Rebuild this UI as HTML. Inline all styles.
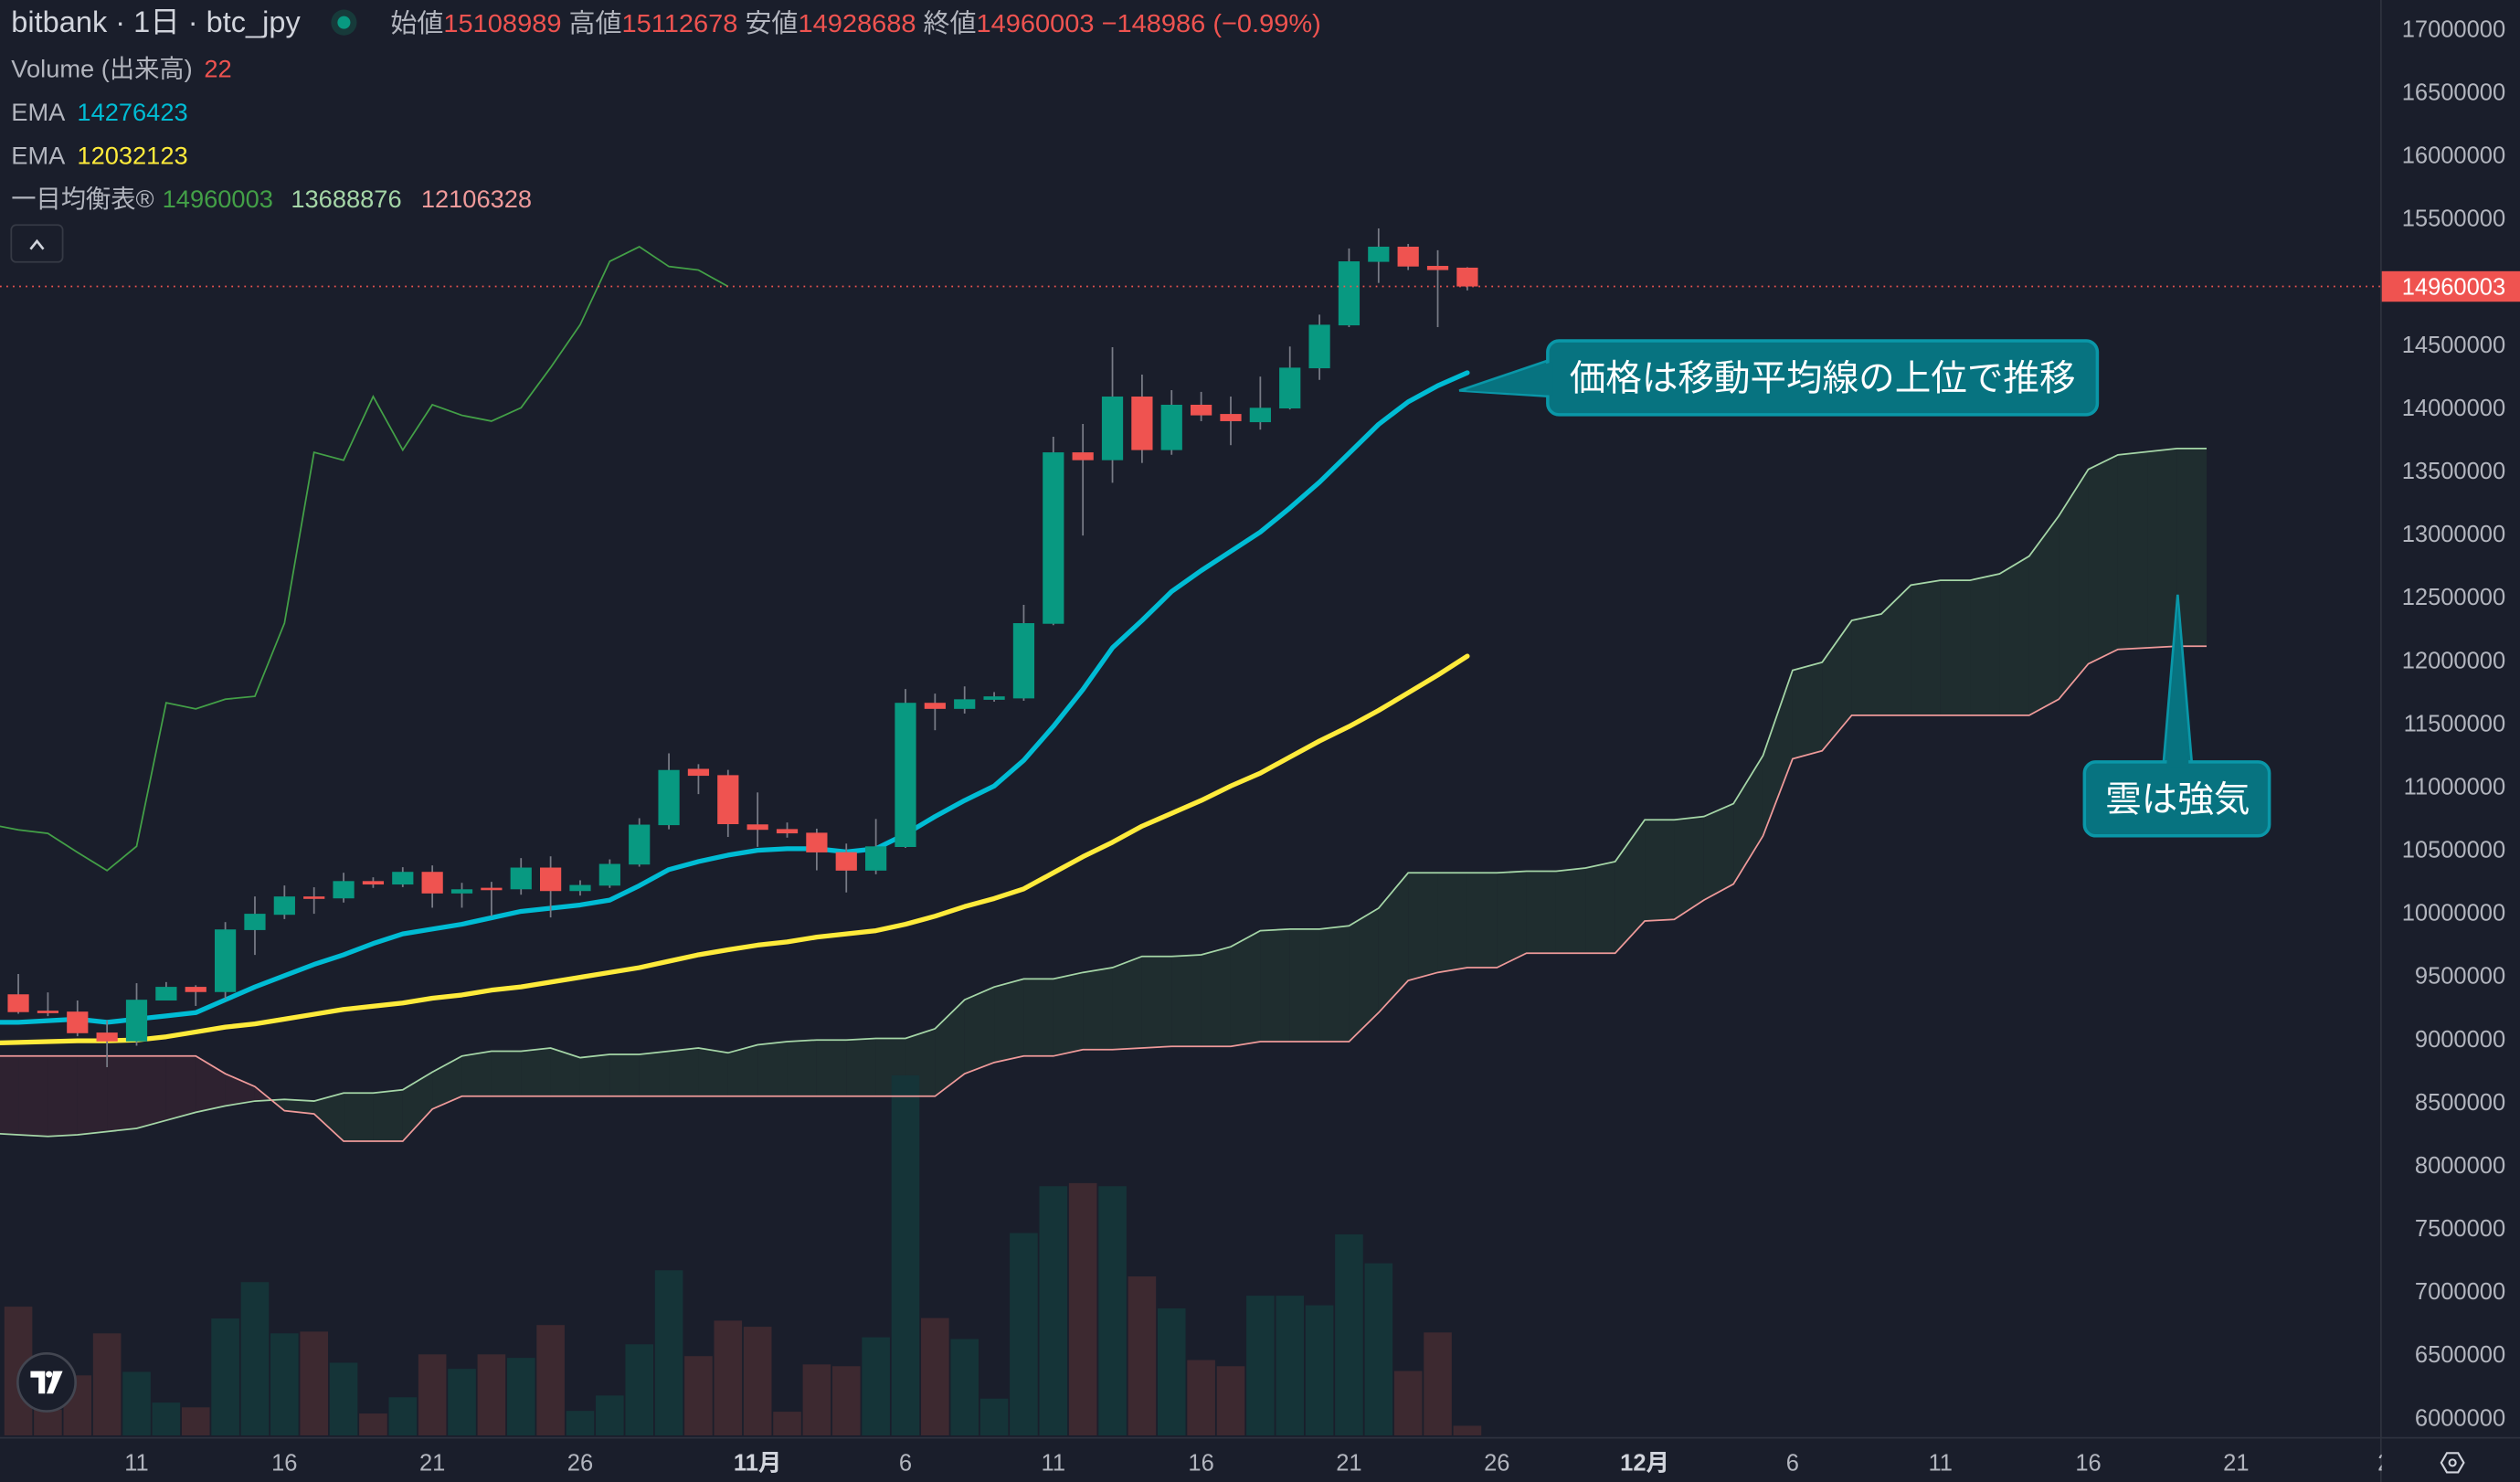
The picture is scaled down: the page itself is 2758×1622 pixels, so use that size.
<!DOCTYPE html>
<html><head><meta charset="utf-8">
<style>
html,body{margin:0;padding:0;background:#1a1e2b;overflow:hidden}
svg{display:block}
text{font-family:"Liberation Sans","Noto Sans CJK JP",sans-serif}
</style></head>
<body>
<svg id="chart" width="2758" height="1622" viewBox="0 0 1568 922" preserveAspectRatio="none" xmlns="http://www.w3.org/2000/svg">
<rect x="0" y="0" width="1568" height="922" fill="#1a1e2b"/>
<g id="cloud"></g>
<g id="vol"></g>
<g id="lines"></g>
<g id="candles"></g>
<g id="axes"></g>
<g id="header">
  <text x="7" y="20" font-size="18.5" fill="#d1d4dc">bitbank · 1日 · btc_jpy</text>
  <circle cx="214" cy="14" r="8" fill="#173a3a"/>
  <circle cx="214" cy="14" r="4" fill="#089981"/>
  <text x="243" y="20" font-size="16" fill="#b2b5be" textLength="579" lengthAdjust="spacingAndGlyphs">始値<tspan fill="#ef5350">15108989</tspan> 高値<tspan fill="#ef5350">15112678</tspan> 安値<tspan fill="#ef5350">14928688</tspan> 終値<tspan fill="#ef5350">14960003 −148986 (−0.99%)</tspan></text>
  <text x="7" y="48" font-size="15.5" fill="#b2b5be">Volume (出来高)</text>
  <text x="127" y="48" font-size="15.5" fill="#ef5350">22</text>
  <text x="7" y="75" font-size="15.5" fill="#b2b5be">EMA</text>
  <text x="48" y="75" font-size="15.5" fill="#00bcd4">14276423</text>
  <text x="7" y="102" font-size="15.5" fill="#b2b5be">EMA</text>
  <text x="48" y="102" font-size="15.5" fill="#ffeb3b">12032123</text>
  <text x="7" y="129" font-size="15.5" fill="#b2b5be">一目均衡表®</text>
  <text x="101" y="129" font-size="15.5" fill="#43a047">14960003</text>
  <text x="181" y="129" font-size="15.5" fill="#a5d6a7">13688876</text>
  <text x="262" y="129" font-size="15.5" fill="#ef9a9a">12106328</text>
  <rect x="7" y="140" width="32" height="23" rx="3" fill="#1a1e2b" stroke="#363a45"/>
  <path d="M19 155 L23 150 L27 155" fill="none" stroke="#d1d4dc" stroke-width="1.5"/>
</g>
<g>
  <path d="M970 222 L908 243 L970 247 Z" fill="#077380" stroke="#0a97a8" stroke-width="1.5"/>
  <rect x="963" y="212" width="342" height="46" rx="7" fill="#077380" stroke="#0a97a8" stroke-width="2"/>
  <path d="M966 225 L912 243 L966 246 Z" fill="#077380"/>
  <text x="1134" y="243" font-size="22.5" fill="#ffffff" text-anchor="middle">価格は移動平均線の上位で推移</text>
</g>
<g>
  <path d="M1346 477 L1355 370 L1364 477 Z" fill="#077380" stroke="#0a97a8" stroke-width="1.5"/>
  <rect x="1297" y="474" width="115" height="46" rx="7" fill="#077380" stroke="#0a97a8" stroke-width="2"/>
  <path d="M1348 478 L1355 376 L1362 478 Z" fill="#077380"/>
  <text x="1355" y="505" font-size="22.5" fill="#ffffff" text-anchor="middle">雲は強気</text>
</g>
<g>
  <circle cx="29" cy="860" r="18" fill="#1a1e2b" stroke="#434651" stroke-width="1.5"/>
  <path d="M19 853 H28 V867 H24 V857 H19 Z M33 853 H39 L33 867 H29 L32 859 Z" fill="#ffffff"/>
  <circle cx="30.5" cy="855" r="2" fill="#ffffff"/>
</g>
</svg>
<script>
// ---- data (prices in thousands JPY); candles start d=-4 (Oct 7), lines start d=-5 ----
const firstDay = -4;
const lineStart = -5;
const opens  = [9353,9223,9216,9050,8980,9304,9412,9371,9862,9983,10128,10113,10250,10223,10323,10152,10197,10185,10357,10171,10214,10381,10693,11139,11089,10699,10662,10633,10479,10333,10520,11662,11614,11686,11697,12288,13646,13584,14088,13664,14023,13950,13885,13994,14312,14652,15155,15275,15123,15109];
const highs  = [9514,9368,9304,9146,9441,9450,9425,9925,10128,10215,10201,10316,10280,10360,10374,10236,10244,10432,10446,10256,10422,10748,11262,11176,11131,10952,10714,10665,10547,10742,11771,11735,11792,11747,12438,13770,13871,14479,14262,14139,14125,14088,14246,14484,14737,15261,15420,15297,15247,15113];
const lows   = [9199,9180,9021,8776,8946,9304,9261,9315,9665,9949,9991,10080,10196,10202,10039,10039,9972,10142,9962,10135,10196,10364,10660,10939,10600,10521,10594,10335,10160,10304,10513,11445,11577,11671,11678,12277,12987,13405,13562,13627,13893,13703,13826,13986,14220,14638,14988,15090,14638,14929];
const closes = [9212,9212,9045,8980,9310,9412,9371,9867,9991,10128,10113,10250,10223,10323,10152,10185,10185,10357,10171,10219,10386,10697,11130,11084,10701,10656,10628,10477,10333,10525,11662,11614,11690,11713,12293,13646,13584,14088,13664,14023,13939,13893,13999,14317,14657,15159,15275,15118,15090,14960];
const volumes = [294,59,137,233,145,75,64,267,350,233,237,166,50,87,185,152,185,177,252,56,91,208,377,181,262,248,54,162,158,224,822,268,220,84,462,569,576,569,363,290,172,158,319,319,297,459,393,147,235,22];
const emaFast = [9131,9131,9144,9157,9131,9157,9182,9208,9310,9412,9501,9590,9666,9755,9832,9870,9908,9959,10010,10036,10061,10099,10214,10341,10405,10456,10494,10507,10507,10481,10507,10621,10761,10889,11003,11207,11474,11767,12098,12315,12544,12709,12862,13015,13206,13409,13639,13868,14046,14173,14276];
const emaSlow = [8966,8972,8979,8985,8985,8991,9017,9055,9093,9119,9157,9195,9233,9259,9284,9323,9348,9386,9412,9450,9488,9526,9564,9615,9666,9705,9743,9768,9806,9832,9857,9908,9972,10048,10112,10188,10315,10443,10557,10685,10787,10889,11003,11105,11232,11360,11474,11602,11742,11881,12032];
const spanA = [8253,8240,8227,8240,8266,8291,8355,8418,8469,8508,8520,8508,8571,8571,8597,8737,8864,8902,8902,8928,8851,8877,8877,8902,8928,8889,8953,8979,8991,8991,9004,9004,9081,9310,9412,9475,9475,9526,9564,9654,9654,9666,9730,9857,9870,9870,9895,10035,10315,10315,10315,10315,10328,10328,10354,10405,10736,10736,10761,10863,11245,11920,11983,12314,12365,12595,12633,12633,12684,12824,13142,13511,13626,13651,13677,13677];
const spanB = [8864,8864,8864,8864,8864,8864,8864,8864,8724,8622,8431,8406,8189,8189,8189,8444,8546,8546,8546,8546,8546,8546,8546,8546,8546,8546,8546,8546,8546,8546,8546,8546,8546,8724,8813,8864,8864,8915,8915,8928,8941,8941,8941,8979,8979,8979,8979,9208,9462,9526,9564,9564,9679,9679,9679,9679,9934,9946,10099,10226,10608,11218,11282,11563,11563,11563,11563,11563,11563,11563,11691,11971,12085,12098,12111,12111];
const chikouShift = 25;
const priceTicks = [17000,16500,16000,15500,15000,14500,14000,13500,13000,12500,12000,11500,11000,10500,10000,9500,9000,8500,8000,7500,7000,6500,6000];
const dateTickDays = [0,5,10,15,21,26,31,36,41,46,51,56,61,66,71,76];
const dateTickLabels = ["11","16","21","26","11月","6","11","16","21","26","12月","6","11","16","21","2"];
const lastPrice = 14960.003;

// ---- scales ----
const NS = "http://www.w3.org/2000/svg";
function xs(d){ return 85 + 18.4*d; }
function ys(pk){ return 18 + (17000 - pk)/500*39.27; }
function vy(v){ return 893 - v/3.67; }
function mk(tag, attrs, parent){ const e=document.createElementNS(NS,tag); for(const k in attrs) e.setAttribute(k, attrs[k]); parent.appendChild(e); return e; }
const up="#089981", dn="#ef5350";

// ---- cloud ----
const cloud=document.getElementById('cloud');
for(let i=0;i<spanA.length-1;i++){
  const d0=lineStart+i, d1=d0+1;
  const a0=spanA[i], a1=spanA[i+1], b0=spanB[i], b1=spanB[i+1];
  const s0=a0-b0, s1=a1-b1;
  if(s0*s1<0){
    const t=s0/(s0-s1); const dm=d0+t; const pm=a0+(a1-a0)*t;
    const p1=mk('polygon',{points:`${xs(d0)},${ys(a0)} ${xs(dm)},${ys(pm)} ${xs(d0)},${ys(b0)}`,fill:s0>0?'#1f2d2f':'#2e2230'},cloud);
    
    
    const p2=mk('polygon',{points:`${xs(dm)},${ys(pm)} ${xs(d1)},${ys(a1)} ${xs(d1)},${ys(b1)}`,fill:s1>0?'#1f2d2f':'#2e2230'},cloud);
    
    
  } else {
    const p=mk('polygon',{points:`${xs(d0)},${ys(a0)} ${xs(d1)},${ys(a1)} ${xs(d1)},${ys(b1)} ${xs(d0)},${ys(b0)}`,fill:(s0+s1)>=0?'#1f2d2f':'#2e2230'},cloud);
    
    
  }
}

// ---- volume ----
const vol=document.getElementById('vol');
volumes.forEach((v,i)=>{
  const d=firstDay+i; const t=vy(v);
  const r=mk('rect',{x:xs(d)-8.7,y:t,width:17.4,height:893-t,fill:closes[i]<opens[i]?'#3d2930':'#153438'},vol);
  
  
});

// ---- lines ----
const lines=document.getElementById('lines');
function pathOf(arr, start){ return arr.map((v,i)=>(i?'L':'M')+xs(start+i).toFixed(1)+' '+ys(v).toFixed(1)).join(' '); }
const la=mk('path',{d:pathOf(spanA,lineStart),fill:'none',stroke:'#a5d6a7','stroke-width':1},lines);


const lb=mk('path',{d:pathOf(spanB,lineStart),fill:'none',stroke:'#ef9a9a','stroke-width':1},lines);


const chk=[]; for(let d=lineStart; d+chikouShift<=firstDay+closes.length-1; d++){ chk.push(closes[d+chikouShift-firstDay]); }
const lc=mk('path',{d:pathOf(chk,lineStart),fill:'none',stroke:'#43a047','stroke-width':1},lines);


const ls=mk('path',{d:pathOf(emaSlow,lineStart),fill:'none',stroke:'#ffeb3b','stroke-width':3,'stroke-linejoin':'round','stroke-linecap':'round'},lines);


const lf=mk('path',{d:pathOf(emaFast,lineStart),fill:'none',stroke:'#00bcd4','stroke-width':3,'stroke-linejoin':'round','stroke-linecap':'round'},lines);



// ---- candles ----
const cg=document.getElementById('candles');
opens.forEach((o,i)=>{
  const d=firstDay+i, c=closes[i], x=xs(d);
  const col=c<o?dn:up;
  const w=mk('line',{x1:x,x2:x,y1:ys(highs[i]),y2:ys(lows[i]),stroke:'#787b86','stroke-width':1},cg);
  
  
  const top=ys(Math.max(o,c)), bot=ys(Math.min(o,c));
  const b=mk('rect',{x:x-6.6,y:top,width:13.2,height:Math.max(1.5,bot-top),fill:col},cg);
  
  
});

// ---- axes ----
const ax=document.getElementById('axes');
const pl=mk('line',{x1:0,x2:1481,y1:ys(lastPrice),y2:ys(lastPrice),stroke:'#ef5350','stroke-width':1,'stroke-dasharray':'1 3'},ax);


const bg=mk('rect',{x:1481,y:0,width:87,height:922,fill:'#1a1e2b'},ax);


const bg2=mk('rect',{x:0,y:894,width:1568,height:28,fill:'#1a1e2b'},ax);


const vl=mk('line',{x1:1481.5,x2:1481.5,y1:0,y2:922,stroke:'#2e323e','stroke-width':1},ax);


const hl=mk('line',{x1:0,x2:1568,y1:894.5,y2:894.5,stroke:'#2e323e','stroke-width':1},ax);


priceTicks.forEach(p=>{
  const t=mk('text',{x:1559,y:ys(p)+5,'font-size':14.5,fill:'#b2b5be','text-anchor':'end'},ax);
  t.textContent=String(p*1000);
  
  
});
const pb=mk('rect',{x:1482,y:ys(lastPrice)-9.5,width:86,height:19,fill:'#ef5350'},ax);


const pt=mk('text',{x:1559,y:ys(lastPrice)+5,'font-size':14.5,fill:'#ffffff','text-anchor':'end'},ax);
pt.textContent='14960003';


dateTickDays.forEach((d,i)=>{
  const lab=dateTickLabels[i]; const month=lab.indexOf('月')>=0;
  const t=mk('text',{x:xs(d),y:915,'font-size':14.5,fill:month?'#d1d4dc':'#b2b5be','font-weight':month?'bold':'normal','text-anchor':'middle'},ax);
  t.textContent=lab;
  
  
});
const cover=mk('rect',{x:1482,y:895,width:86,height:27,fill:'#1a1e2b'},ax);


const gear=mk('path',{d:'M1519 910 L1522.5 904 L1529.5 904 L1533 910 L1529.5 916 L1522.5 916 Z',fill:'none',stroke:'#d1d4dc','stroke-width':1.2},ax);


const gc=mk('circle',{cx:1526,cy:910,r:2,fill:'none',stroke:'#d1d4dc','stroke-width':1.2},ax);


</script>
</body></html>
